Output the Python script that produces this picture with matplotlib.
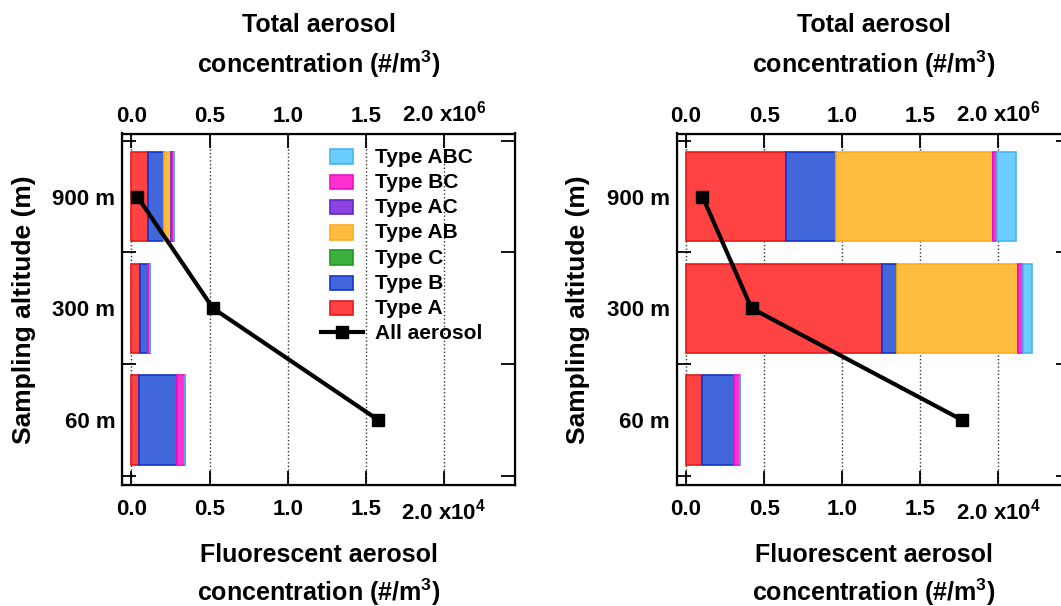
import numpy as np
import matplotlib
matplotlib.use("Agg")
import matplotlib.pyplot as plt
import matplotlib.patches as mpatches
from matplotlib.legend_handler import HandlerPatch

plt.rcParams['font.family'] = ['Liberation Sans', 'DejaVu Sans']
plt.rcParams['font.weight'] = 'bold'
plt.rcParams['axes.labelweight'] = 'bold'
plt.rcParams['mathtext.fontset'] = 'custom'
plt.rcParams['mathtext.rm'] = 'Liberation Sans:bold'
plt.rcParams['mathtext.it'] = 'Liberation Sans:bold'
plt.rcParams['mathtext.bf'] = 'Liberation Sans:bold'

# altitudes, bottom to top
altitudes = ['60 m', '300 m', '900 m']
types = ['Type A', 'Type B', 'Type C', 'Type AB', 'Type AC', 'Type BC', 'Type ABC']
colors = ['#FF4242', '#4167DA', '#3DAF3D', '#FFBD40', '#8B42E0', '#FF2FD0', '#6CCEFF']
edges = ['#E81818', '#1533C8', '#1E9A1E', '#FFAA20', '#6424C4', '#EE10C8', '#45B8F2']

# fluorescent aerosol by type (x10^4 #/m3), rows = types, cols = altitudes
fluo_left = [
    [0.048, 0.052, 0.104],   # A
    [0.243, 0.054, 0.102],   # B
    [0.001, 0.001, 0.001],   # C
    [0.000, 0.000, 0.049],   # AB
    [0.001, 0.002, 0.001],   # AC
    [0.047, 0.011, 0.013],   # BC
    [0.000, 0.000, 0.000],   # ABC
]
fluo_right = [
    [0.099, 1.256, 0.642],
    [0.205, 0.095, 0.320],
    [0.000, 0.001, 0.001],
    [0.000, 0.774, 1.003],
    [0.001, 0.002, 0.001],
    [0.038, 0.032, 0.025],
    [0.000, 0.057, 0.122],
]
# total aerosol (x10^6 #/m3)
total_left = [1.58, 0.522, 0.037]
total_right = [1.767, 0.419, 0.105]

xticks = [0.0, 0.5, 1.0, 1.5, 2.0]
top_labels = ['0.0', '0.5', '1.0', '1.5', '2.0 x10$^6$']
bot_labels = ['0.0', '0.5', '1.0', '1.5', '2.0 x10$^4$']

fig = plt.figure(figsize=(10.61, 6.06), dpi=100)
W, H = 1061, 606


def small_box(legend, orig_handle, xdescent, ydescent, width, height, fontsize):
    return mpatches.Rectangle((-xdescent + width * 0.22, -ydescent - 1), width * 0.56, height)


def panel(left_px, fluo, total, show_legend):
    ax = fig.add_axes([left_px / W, (H - 485) / H, 393 / W, 351.5 / H])
    y = np.arange(len(altitudes))
    left = np.zeros(len(altitudes))
    for i in range(len(types)):
        ax.barh(y, fluo[i], height=0.8, left=left, color=colors[i],
                edgecolor=edges[i], linewidth=1.2, zorder=2)
        left = left + np.array(fluo[i])
    ax.set_xlim(-0.058, 2.458)
    ax.set_ylim(-0.582, 2.564)
    ax.set_xticks(xticks)
    ax.set_xticklabels(bot_labels)
    ax.set_yticks(y)
    ax.set_yticklabels(altitudes)
    ax.set_yticks([-0.5, 0.5, 1.5, 2.5], minor=True)
    ax.tick_params(axis='y', which='major', length=0, pad=5, labelsize=16)
    ax.tick_params(axis='y', which='minor', direction='in', length=10, width=1.3,
                   left=True, right=True)
    ax.tick_params(axis='x', direction='in', length=10, width=1.3, pad=10, labelsize=16)
    ax.grid(axis='x', linestyle=':', color='#333333', linewidth=1.0, zorder=0)
    ax.set_axisbelow(True)
    for s in ax.spines.values():
        s.set_linewidth(1.6)
    ax.set_xlabel('Fluorescent aerosol\nconcentration (#/m$^3$)', fontsize=18,
                  labelpad=13, linespacing=1.4)
    ax.set_ylabel('Sampling altitude (m)', fontsize=19, labelpad=12)

    ax2 = ax.twiny()
    ax2.set_xlim(ax.get_xlim())
    ax2.set_xticks(xticks)
    ax2.set_xticklabels(top_labels)
    ax2.tick_params(axis='x', direction='in', length=10, width=1.3, pad=5, labelsize=16)
    ln, = ax2.plot(total, y, color='black', linewidth=3, marker='s', markersize=9,
                   label='All aerosol', zorder=5)
    ax2.set_xlabel('Total aerosol\nconcentration (#/m$^3$)', fontsize=18,
                   labelpad=20, linespacing=1.45)

    if show_legend:
        boxes = [mpatches.Patch(facecolor=colors[i], edgecolor=edges[i], linewidth=1.2)
                 for i in range(len(types))]
        handles = boxes[::-1] + [ln]
        labels = types[::-1] + ['All aerosol']
        hmap = {b: HandlerPatch(patch_func=small_box) for b in boxes}
        ax2.legend(handles, labels, loc='upper left', bbox_to_anchor=(0.505, 0.96),
                   frameon=False, fontsize=15, handlelength=2.0, handletextpad=0.6,
                   labelspacing=0.3, borderpad=0, borderaxespad=0, handler_map=hmap)
    return ax


panel(122.4, fluo_left, total_left, True)
panel(677, fluo_right, total_right, False)

fig.savefig('out.png', dpi=100, facecolor='white')
